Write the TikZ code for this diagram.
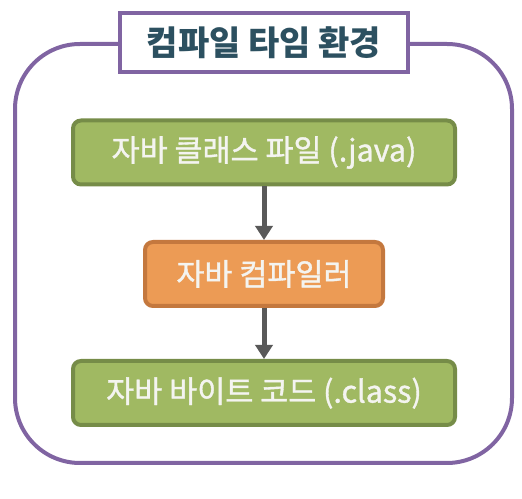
\documentclass[tikz,border=0pt]{standalone}
\usepackage{fontspec}
\setmainfont{Noto Sans CJK KR}
\newfontfamily\labelfont[FakeBold=1.2]{Noto Sans CJK KR}
\usetikzlibrary{arrows.meta}
\definecolor{envpurple}{RGB}{128,100,162}
\definecolor{titleink}{RGB}{44,80,96}
\definecolor{greenfill}{RGB}{160,185,98}
\definecolor{greenline}{RGB}{118,140,72}
\definecolor{orangefill}{RGB}{236,155,85}
\definecolor{orangeline}{RGB}{196,120,62}
\definecolor{arrowgray}{RGB}{89,89,89}
\definecolor{labelink}{RGB}{244,244,240}
\tikzset{
  x=1pt, y=1pt,
  envframe/.style={draw=envpurple, line width=4pt, rounded corners=65pt},
  titlebox/.style={draw=envpurple, line width=4pt, fill=white, inner sep=0pt,
    minimum width=288pt, minimum height=59pt, text=titleink,
    font=\fontsize{34}{34}\selectfont\bfseries},
  stagebox/.style={line width=4pt, rounded corners=8pt, inner sep=0pt,
    text=labelink, font=\labelfont\fontsize{30.5}{30.5}\selectfont},
  greenbox/.style={stagebox, draw=greenline, fill=greenfill,
    minimum width=382pt, minimum height=64pt},
  orangebox/.style={stagebox, draw=orangeline, fill=orangefill,
    minimum width=238pt, minimum height=64pt},
  flow/.style={draw=arrowgray, line width=5pt,
    -{Triangle[width=17pt,length=14pt]}}
}
\begin{document}
\begin{tikzpicture}
\useasboundingbox (0,0) rectangle (522,498);
% outer environment frame
\draw[envframe] (15,35) rectangle (512,454);
% title tab sitting on the top edge
\node[titlebox] (title) at (264,455.5) {컴파일 타임 환경};
% compilation stages
\node[greenbox] (src) at (264,345.5) {자바 클래스 파일 (.java)};
\node[orangebox] (javac) at (264,224) {자바 컴파일러};
\node[greenbox] (bytecode) at (264,105) {자바 바이트 코드 (.class)};
% flow between stages
\draw[flow] (src.south) -- (javac.north);
\draw[flow] (javac.south) -- (bytecode.north);
\end{tikzpicture}
\end{document}
